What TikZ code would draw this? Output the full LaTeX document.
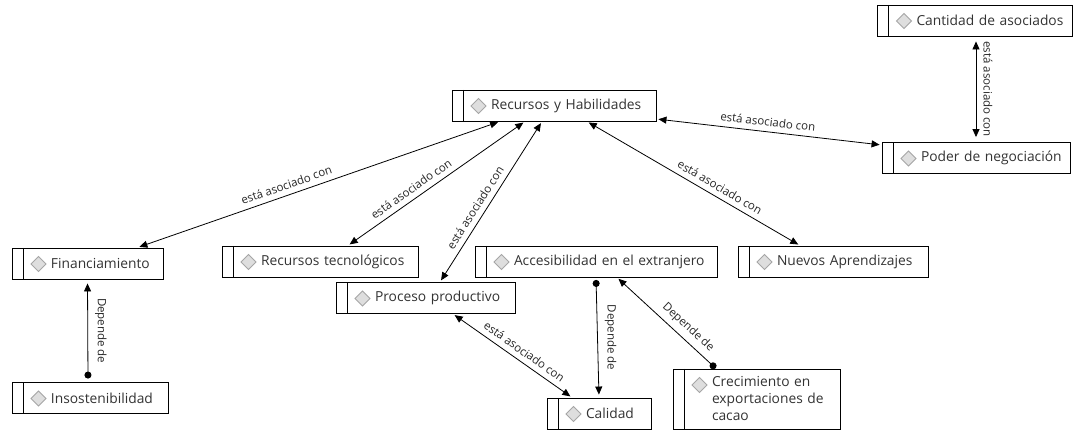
\documentclass[tikz,border=0pt]{standalone}
\usepackage{fontspec}
\setmainfont{Open Sans}
\usetikzlibrary{arrows.meta, positioning, calc}
\newcommand{\conceptfont}{\fontsize{13.8}{17}\selectfont}
\newcommand{\linkfont}{\fontsize{11.5}{13}\selectfont}

\begin{document}
\begin{tikzpicture}[
    x=1pt, y=-1pt,
    >={Triangle[length=8pt,width=7pt]},
    assoc/.style={draw, line width=0.8pt, <->, shorten <=2pt, shorten >=2pt},
    dep/.style={draw, line width=0.8pt, {Circle[length=7pt]}->, shorten <=2.5pt, shorten >=3pt},
    concept/.style={
        rectangle, draw=black, line width=0.9pt, fill=white,
        text=black!80, font=\conceptfont,
        inner xsep=0pt, inner ysep=0pt, minimum height=31pt,
        text width=#1, align=left,
        execute at begin node={\leftskip=39pt\relax},
        path picture={
            \draw[line width=0.9pt] ([xshift=11pt]path picture bounding box.north west)
                -- ([xshift=11pt]path picture bounding box.south west);
            \filldraw[draw=black!35, fill=black!13, line width=0.8pt]
                ([shift={(26.5pt,-16pt)}]path picture bounding box.north west)
                +(-7.5pt,0) -- +(0,7.5pt) -- +(7.5pt,0) -- +(0,-7.5pt) -- cycle;
        }
    },
    link/.style={font=\linkfont, text=black!85, sloped, above=2pt},
    vlink/.style={font=\linkfont, text=black!85, rotate=-90, anchor=south, inner sep=7pt}
]
    \useasboundingbox (0,0) rectangle (1080,430);

    % Nodes
    \node[concept=204pt] (recursos) at (554,105.5) {Recursos y Habilidades};
    \node[concept=195pt] (cantidad) at (975,20.5) {Cantidad de asociados};
    \node[concept=188pt] (poder) at (976,158) {Poder de negociación};
    \node[concept=151pt] (financ) at (87.5,263.5) {Financiamiento};
    \node[concept=156pt] (insost) at (90,398) {Insostenibilidad};
    \node[concept=196pt] (tecno) at (320,261.5) {Recursos tecnológicos};
    \node[concept=242pt] (acceso) at (596,261.5) {Accesibilidad en el extranjero};
    \node[concept=179pt] (proceso) at (425.5,298) {Proceso productivo};
    \node[concept=104pt] (calidad) at (599,413.5) {Calidad};
    \node[concept=167pt, minimum height=60pt] (crecim) at (756.5,399) {Crecimiento en\\exportaciones de\\cacao};
    \node[concept=190pt] (aprend) at (833,261.5) {Nuevos Aprendizajes};

    % Arrows + labels
    \path[assoc] ([xshift=-54pt]recursos.south) -- node[link, pos=0.58] {está asociado con} ([xshift=50pt]financ.north);
    \path[assoc] ([xshift=-29pt]recursos.south) -- node[link, pos=0.61] {está asociado con} ([xshift=28pt]tecno.north);
    \path[assoc] ([xshift=-12pt]recursos.south) -- node[link, pos=0.57] {está asociado con} ([xshift=14.5pt]proceso.north);
    \path[assoc] ([xshift=33pt]recursos.south) -- node[link, pos=0.6] {está asociado con} ([xshift=-33pt]aprend.north);
    \path[assoc] ([yshift=-13.5pt]recursos.east) -- node[link, pos=0.49] {está asociado con} ([yshift=13pt]poder.west);
    \path[assoc, shorten <=5pt, shorten >=5pt] ([xshift=1pt]cantidad.south) -- node[vlink, midway] {está asociado con} (poder.north);
    \path[assoc] ([xshift=27.5pt]proceso.south) -- node[link, pos=0.55] {está asociado con} ([xshift=-27pt]calidad.north);
    \path[dep, shorten <=3.5pt, shorten >=4pt] ([xshift=-2pt]insost.north) -- node[vlink, midway] {Depende de} (financ.south);
    \path[dep] (acceso.south) -- node[vlink, midway] {Depende de} (calidad.north);
    \path[dep, shorten <=0.5pt, shorten >=2pt] ([xshift=-40.5pt]crecim.north) -- node[link, pos=0.36] {Depende de} ([xshift=21pt]acceso.south);

\end{tikzpicture}
\end{document}
